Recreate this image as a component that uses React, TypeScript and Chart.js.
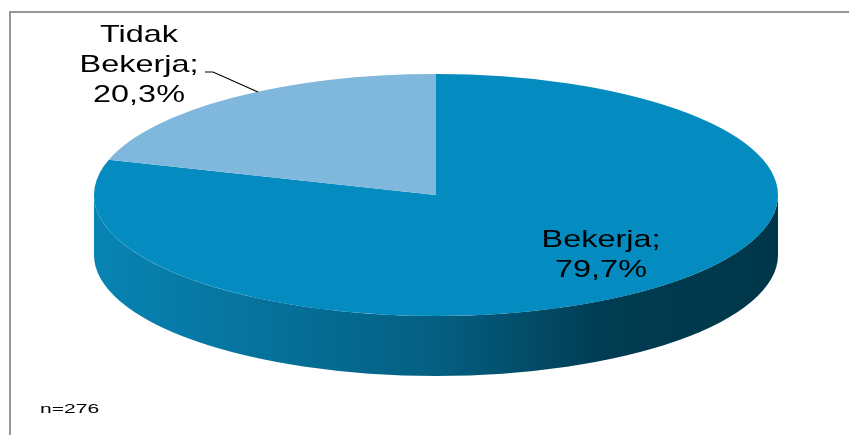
import React, { useEffect, useRef } from "react";
import { Chart, registerables } from "chart.js";

Chart.register(...registerables);

// ---- data ----
const categories = ["Bekerja", "Tidak Bekerja"];
const values = [79.7, 20.3];
const topColors = ["#048BBF", "#80B7DC"];
const sideShades = [
  ["#0884B4", "#045F82", "#013C52", "#003649"],
  ["#6FA3C8", "#567F9C", "#3D5C72", "#33505F"],
];
const sampleNote = "n=276";

// ---- layout ----
const W = 849;
const H = 435;
const ELL = { cx: 436, cy: 195, rx: 342, ry: 121, depth: 60 };
const LABEL_FONT = "24px 'Liberation Sans', Arial, sans-serif";
const LABEL_STRETCH = 1.35;
const LABEL_LINE = 30;
// label anchor: center x, first baseline y, optional leader polyline
const labelLayout = [
  { x: 601, y: 247, leader: null as null | number[][] },
  { x: 139, y: 42, leader: [[205, 72], [213, 72], [258, 92]] },
];

function fmtPct(v: number) {
  return v.toFixed(1).replace(".", ",") + "%";
}

function labelLines(cat: string, v: number) {
  const words = cat.split(" ");
  words[words.length - 1] = words[words.length - 1] + ";";
  return [...words, fmtPct(v)];
}

const pie3d = {
  id: "pie3d",
  beforeDraw(chart: any) {
    const ctx = chart.ctx;
    ctx.save();
    ctx.fillStyle = "#ffffff";
    ctx.fillRect(0, 0, W, H);
    ctx.strokeStyle = "#979797";
    ctx.lineWidth = 2;
    ctx.beginPath();
    ctx.moveTo(10, H + 2);
    ctx.lineTo(10, 12);
    ctx.lineTo(W + 2, 12);
    ctx.stroke();
    ctx.restore();
  },
  beforeDatasetsDraw(chart: any) {
    const ctx = chart.ctx;
    const meta = chart.getDatasetMeta(0);
    const first = meta.data[0].getProps(["x", "y", "outerRadius"], true);
    const { cx, cy, rx, ry, depth } = ELL;
    // side walls (front half only)
    meta.data.forEach((arc: any, i: number) => {
      const { startAngle, endAngle } = arc.getProps(["startAngle", "endAngle"], true);
      for (let k = -1; k <= 2; k++) {
        const s = Math.max(startAngle, 2 * Math.PI * k);
        const e = Math.min(endAngle, 2 * Math.PI * k + Math.PI);
        if (e <= s) continue;
        const g = ctx.createLinearGradient(cx - rx, 0, cx + rx, 0);
        const sh = sideShades[i % sideShades.length];
        g.addColorStop(0, sh[0]);
        g.addColorStop(0.5, sh[1]);
        g.addColorStop(0.75, sh[2]);
        g.addColorStop(1, sh[3]);
        ctx.save();
        ctx.fillStyle = g;
        ctx.beginPath();
        ctx.ellipse(cx, cy, rx, ry, 0, s, e, false);
        ctx.ellipse(cx, cy + depth, rx, ry, 0, e, s, true);
        ctx.closePath();
        ctx.fill();
        ctx.restore();
      }
    });
    // flatten the pie face into the ellipse
    ctx.save();
    ctx.translate(cx, cy);
    ctx.scale(rx / first.outerRadius, ry / first.outerRadius);
    ctx.translate(-first.x, -first.y);
  },
  afterDatasetsDraw(chart: any) {
    const ctx = chart.ctx;
    ctx.restore();
    const labels: string[] = chart.data.labels;
    const data: number[] = chart.data.datasets[0].data;
    labels.forEach((cat, i) => {
      const lay = labelLayout[i];
      const lines = labelLines(cat, data[i]);
      ctx.save();
      ctx.font = LABEL_FONT;
      ctx.fillStyle = "#000000";
      ctx.textAlign = "center";
      ctx.textBaseline = "alphabetic";
      lines.forEach((ln, j) => {
        ctx.save();
        ctx.translate(lay.x, lay.y + j * LABEL_LINE);
        ctx.scale(LABEL_STRETCH, 1);
        ctx.fillText(ln, 0, 0);
        ctx.restore();
      });
      if (lay.leader) {
        ctx.strokeStyle = "#000000";
        ctx.lineWidth = 1.2;
        ctx.beginPath();
        lay.leader.forEach((p, j) => (j === 0 ? ctx.moveTo(p[0], p[1]) : ctx.lineTo(p[0], p[1])));
        ctx.stroke();
      }
      ctx.restore();
    });
    // sample size note
    ctx.save();
    ctx.font = "13px 'Liberation Sans', Arial, sans-serif";
    ctx.fillStyle = "#000000";
    ctx.textAlign = "left";
    ctx.translate(40, 413);
    ctx.scale(1.62, 1);
    ctx.fillText(sampleNote, 0, 0);
    ctx.restore();
  },
};

export default function App() {
  const ref = useRef<HTMLCanvasElement>(null);
  useEffect(() => {
    if (!ref.current) return;
    const chart = new Chart(ref.current, {
      type: "pie",
      data: {
        labels: categories,
        datasets: [
          {
            data: values,
            backgroundColor: topColors,
            borderWidth: 0,
            clip: false,
          } as any,
        ],
      },
      options: {
        animation: false,
        responsive: false,
        events: [],
        layout: { padding: 20 },
        plugins: {
          legend: { display: false },
          tooltip: { enabled: false },
          title: { display: false },
        },
      },
      plugins: [pie3d],
    });
    return () => chart.destroy();
  }, []);
  return (
    <div style={{ position: "absolute", left: 0, top: 0, width: W, height: H, background: "#fff" }}>
      <canvas ref={ref} width={W} height={H} style={{ display: "block", width: W, height: H }} />
    </div>
  );
}
